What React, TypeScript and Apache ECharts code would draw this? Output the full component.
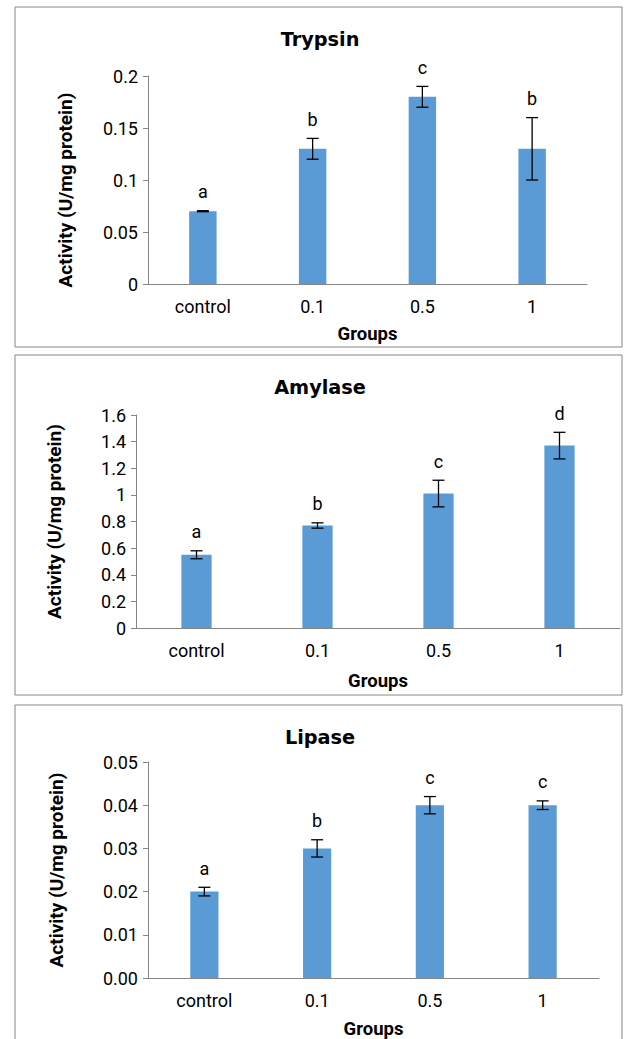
import React, { useEffect, useRef } from "react";
import * as echarts from "echarts";

const groups = ["control", "0.1", "0.5", "1"];

const trypsinMean = [0.07, 0.13, 0.18, 0.13];
const trypsinErr = [0.0005, 0.01, 0.01, 0.03];
const trypsinLetters = ["a", "b", "c", "b"];

const amylaseMean = [0.55, 0.77, 1.01, 1.37];
const amylaseErr = [0.03, 0.02, 0.1, 0.1];
const amylaseLetters = ["a", "b", "c", "d"];

const lipaseMean = [0.02, 0.03, 0.04, 0.04];
const lipaseErr = [0.001, 0.002, 0.002, 0.001];
const lipaseLetters = ["a", "b", "c", "c"];

const titles = ["Trypsin", "Amylase", "Lipase"];
const yName = "Activity (U/mg protein)";
const xName = "Groups";

const FONT = "Roboto, 'Open Sans', sans-serif";
const TITLE_FONT = "'DejaVu Sans', Verdana, sans-serif";
const BAR = "#5B9BD5";
const AXIS = "#868686";

export default function App() {
  const ref = useRef<HTMLDivElement>(null);

  useEffect(() => {
    document.body.style.margin = "0";
    if (!ref.current) return;
    const chart = echarts.init(ref.current, null, { renderer: "svg" });

    const panels = [
      { mean: trypsinMean, err: trypsinErr, letters: trypsinLetters, max: 0.2, interval: 0.05, fmt: (v: number) => String(v), grid: { left: 148, right: 37, top: 76, height: 208 }, nameGap: 73, namePad: [0, 20, 0, 0], xGap: 40, titleTop: 25 },
      { mean: amylaseMean, err: amylaseErr, letters: amylaseLetters, max: 1.6, interval: 0.2, fmt: (v: number) => String(v), grid: { left: 136, right: 4, top: 415, height: 213 }, nameGap: 72, namePad: [0, 0, 0, 0], xGap: 43, titleTop: 373 },
      { mean: lipaseMean, err: lipaseErr, letters: lipaseLetters, max: 0.05, interval: 0.01, fmt: (v: number) => v.toFixed(2), grid: { left: 148, right: 25, top: 762, height: 218 }, nameGap: 82, namePad: [0, 0, 0, 0], xGap: 41, titleTop: 723 },
    ];

    const option: any = {
      animation: false,
      title: panels.map((p, i) => ({
        text: titles[i],
        left: 315,
        top: p.titleTop,
        textAlign: "center",
        textStyle: { fontFamily: TITLE_FONT, fontSize: 19.3, fontWeight: "bold", color: "#000" },
      })),
      grid: panels.map((p) => ({ ...p.grid, containLabel: false })),
      xAxis: panels.map((p, i) => ({
        type: "category",
        gridIndex: i,
        data: groups,
        name: xName,
        nameLocation: "middle",
        nameGap: p.xGap,
        nameTextStyle: { fontFamily: FONT, fontSize: 18.5, fontWeight: "bold", color: "#000" },
        axisLine: { lineStyle: { color: AXIS, width: 1 } },
        axisTick: { show: false },
        axisLabel: { fontFamily: FONT, fontSize: 18, color: "#000", margin: 13 },
      })),
      yAxis: panels.map((p, i) => ({
        type: "value",
        gridIndex: i,
        min: 0,
        max: p.max,
        interval: p.interval,
        name: yName,
        nameLocation: "middle",
        nameGap: p.nameGap,
        nameTextStyle: { fontFamily: FONT, fontSize: 19, fontWeight: "bold", color: "#000", padding: p.namePad },
        axisLine: { show: true, lineStyle: { color: AXIS, width: 1 } },
        axisTick: { show: true, length: 5, lineStyle: { color: AXIS } },
        splitLine: { show: false },
        axisLabel: { fontFamily: FONT, fontSize: 18, color: "#000", margin: 10, formatter: p.fmt },
      })),
      series: [
        ...panels.map((p, i) => ({
          type: "bar",
          xAxisIndex: i,
          yAxisIndex: i,
          data: p.mean,
          barWidth: "25%",
          itemStyle: { color: BAR },
        })),
        ...panels.map((p, i) => ({
          type: "custom",
          xAxisIndex: i,
          yAxisIndex: i,
          z: 10,
          data: p.mean.map((m, k) => [k, m, p.err[k]]),
          renderItem: (params: any, api: any) => {
            const x = api.value(0);
            const m = api.value(1);
            const e = api.value(2);
            const top = api.coord([x, m + e]);
            const bot = api.coord([x, m - e]);
            const cap = 6;
            const st = { stroke: "#000", lineWidth: 1.3 };
            return {
              type: "group",
              children: [
                { type: "line", shape: { x1: top[0], y1: top[1], x2: bot[0], y2: bot[1] }, style: st },
                { type: "line", shape: { x1: top[0] - cap, y1: top[1], x2: top[0] + cap, y2: top[1] }, style: st },
                { type: "line", shape: { x1: bot[0] - cap, y1: bot[1], x2: bot[0] + cap, y2: bot[1] }, style: st },
                {
                  type: "text",
                  style: {
                    text: p.letters[params.dataIndex],
                    x: top[0],
                    y: top[1] - 19,
                    align: "center",
                    verticalAlign: "middle",
                    fill: "#000",
                    font: `18px ${FONT}`,
                  },
                },
              ],
            };
          },
        })),
      ],
      graphic: [
        { type: "rect", shape: { x: 15, y: 7, width: 607, height: 340 }, style: { fill: "none", stroke: AXIS, lineWidth: 1 } },
        { type: "rect", shape: { x: 15, y: 355, width: 607, height: 340 }, style: { fill: "none", stroke: AXIS, lineWidth: 1 } },
        { type: "rect", shape: { x: 15, y: 705, width: 607, height: 360 }, style: { fill: "none", stroke: AXIS, lineWidth: 1 } },
      ],
    };

    chart.setOption(option);
    return () => chart.dispose();
  }, []);

  return <div ref={ref} style={{ width: 624, height: 1039 }} />;
}
